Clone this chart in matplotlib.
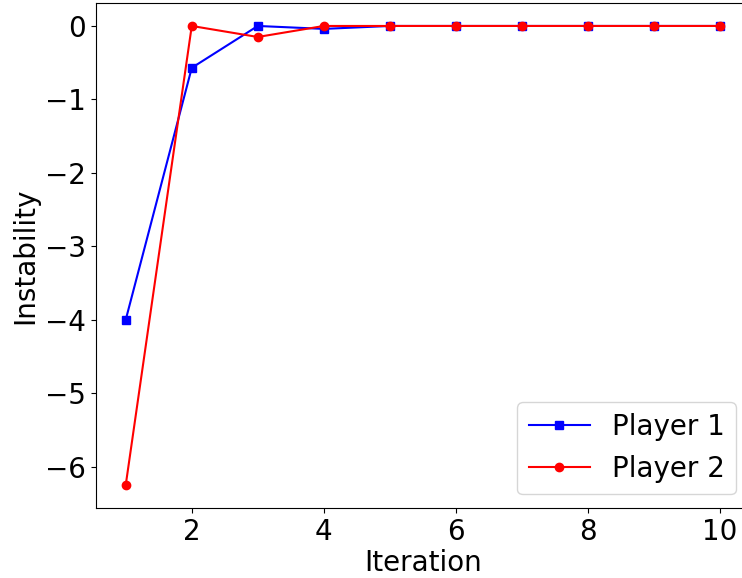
import matplotlib
matplotlib.use("Agg")
import matplotlib.pyplot as plt

iterations = [1, 2, 3, 4, 5, 6, 7, 8, 9, 10]
player1 = [-4.0, -0.57, 0.0, -0.04, 0.0, 0.0, 0.0, 0.0, 0.0, 0.0]
player2 = [-6.25, 0.0, -0.15, 0.0, 0.0, 0.0, 0.0, 0.0, 0.0, 0.0]

plt.rcParams["font.size"] = 20

fig = plt.figure(figsize=(7.42, 5.78), dpi=100)
ax = fig.add_axes([0.1294, 0.1211, 0.881, 0.8737])

ax.plot(iterations, player1, color="blue", marker="s", markersize=6, label="Player 1")
ax.plot(iterations, player2, color="red", marker="o", markersize=6, label="Player 2")

ax.set_xlabel("Iteration", labelpad=2)
ax.set_ylabel("Instability")
ax.set_xticks([2, 4, 6, 8, 10])
ax.legend(loc="lower right", handlelength=2.2)

fig.savefig("out.png", dpi=100)
